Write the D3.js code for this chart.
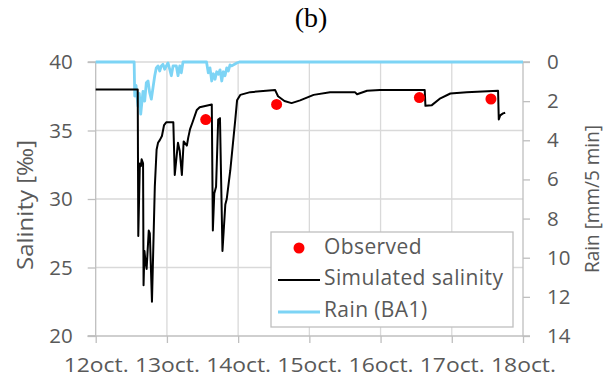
<!DOCTYPE html>
<html><head><meta charset="utf-8">
<script src="https://cdn.jsdelivr.net/npm/d3@7"></script>
<style>
html,body{margin:0;padding:0;background:#fff;}
text{font-family:"Open Sans",sans-serif;fill:#595959;}
</style></head>
<body>
<svg id="chart" width="609" height="384"></svg>
<script>
// ---- data ----
const xTickLabels = ["12oct.","13oct.","14oct.","15oct.","16oct.","17oct.","18oct."];
const salTicks = [20,25,30,35,40];
const rainTicks = [0,2,4,6,8,10,12,14];

const simTime = [0,0.59,0.598,0.62,0.635,0.645,0.665,0.672,0.685,0.70,0.715,0.745,0.76,0.79,0.83,0.855,0.875,0.90,0.93,0.96,0.99,1.09,1.11,1.155,1.18,1.21,1.235,1.28,1.30,1.325,1.36,1.42,1.46,1.63,1.645,1.665,1.69,1.72,1.745,1.78,1.82,1.84,1.89,1.96,1.985,2.03,2.17,2.52,2.56,2.65,2.75,2.87,3.06,3.29,3.64,3.67,3.81,3.99,4.62,4.63,4.72,4.84,4.98,5.21,5.65,5.66,5.68,5.72,5.75];
const simSal  = [38.0,38.0,27.3,32.6,32.4,32.9,32.6,23.7,26.2,25.4,24.9,27.7,27.5,22.5,30.9,33.6,34.1,34.3,34.6,35.4,35.6,35.6,31.75,34.1,33.5,31.75,34.2,33.9,34.5,35.1,35.6,36.5,36.7,36.9,27.7,30.4,30.9,35.8,35.9,26.2,29.6,30.0,32.1,35.8,37.2,37.6,37.8,37.95,37.5,37.15,37.0,37.2,37.6,37.8,37.8,37.65,37.9,37.95,37.95,36.8,36.85,37.35,37.7,37.8,37.9,35.8,36.1,36.25,36.3];

const obsTime = [1.545,2.54,4.545,5.55];
const obsSal  = [35.8,36.9,37.4,37.3];

const rainTime = [0,0.54,0.548,0.566,0.594,0.612,0.632,0.664,0.688,0.711,0.735,0.758,0.781,0.805,0.829,0.851,0.875,0.899,0.921,0.945,0.969,0.992,1.015,1.039,1.062,1.086,1.132,1.156,1.18,1.202,1.226,1.556,1.581,1.605,1.629,1.652,1.676,1.699,1.722,1.746,1.77,1.792,1.816,1.84,1.862,1.886,1.91,1.956,1.98,2.017,6];
const rainMm   = [0,0,1.74,1.2,2.25,1.6,2.66,1.5,2.0,1.06,0.97,1.57,1.9,1.3,0.7,0.3,0.2,0.46,0.2,0.12,0.37,0.2,0.05,0.37,0.7,0.2,0.2,0.7,0.2,0.55,0,0,0.55,0.3,0.97,0.6,0.88,0.5,0.63,0.4,0.97,0.5,0.7,0.3,0.46,0.15,0.2,0.1,0.05,0,0];

const legendLabels = ["Observed","Simulated salinity","Rain (BA1)"];

// ---- layout ----
const L = 95.7, R = 523, T = 62, B = 336;
const svg = d3.select("#chart");
const x = d3.scaleLinear().domain([0,6]).range([L,R]);
const yL = d3.scaleLinear().domain([20,40]).range([B,T]);
const yR = d3.scaleLinear().domain([0,14]).range([T,B]);

const gridC = "#d9d9d9", axisC = "#bfbfbf";

// gridlines
svg.append("g").selectAll("line").data([25,30,35,40]).join("line")
  .attr("x1",L).attr("x2",R).attr("y1",d=>yL(d)).attr("y2",d=>yL(d))
  .attr("stroke",gridC).attr("stroke-width",1.3);
svg.append("g").selectAll("line").data([1,2,3,4,5]).join("line")
  .attr("x1",d=>x(d)).attr("x2",d=>x(d)).attr("y1",T).attr("y2",B)
  .attr("stroke",gridC).attr("stroke-width",1.3);

// axes
const fs = 20.5;
const xAxis = svg.append("g").attr("transform",`translate(0,${B})`)
  .call(d3.axisBottom(x).tickValues(d3.range(7)).tickFormat((d,i)=>xTickLabels[i]).tickSize(7).tickPadding(14));
const yAxisL = svg.append("g").attr("transform",`translate(${L},0)`)
  .call(d3.axisLeft(yL).tickValues(salTicks).tickSize(8).tickPadding(15));
const yAxisR = svg.append("g").attr("transform",`translate(${R},0)`)
  .call(d3.axisRight(yR).tickValues(rainTicks).tickSize(7).tickPadding(17));
[xAxis,yAxisL,yAxisR].forEach(g=>{
  g.select(".domain").attr("stroke",axisC).attr("stroke-width",1.3);
  g.selectAll(".tick line").attr("stroke",axisC).attr("stroke-width",1.3);
  g.selectAll(".tick text").attr("font-family","Open Sans").attr("font-size",fs).attr("fill","#595959");
});
yAxisL.select(".domain").attr("d",`M-8,${T}H0V${B}H-8`);
yAxisR.select(".domain").attr("d",`M7,${T}H0V${B}H7`);
xAxis.select(".domain").attr("d",`M${L-8},0H${R}`);
xAxis.selectAll(".tick text").attr("textLength",65).attr("lengthAdjust","spacingAndGlyphs");

// rain line
svg.append("path").datum(rainTime.map((t,i)=>[t,rainMm[i]]))
  .attr("fill","none").attr("stroke","#7dd4f5").attr("stroke-width",2.8).attr("stroke-linejoin","round")
  .attr("d",d3.line().x(d=>x(d[0])).y(d=>yR(d[1])));

// simulated salinity
svg.append("path").datum(simTime.map((t,i)=>[t,simSal[i]]))
  .attr("fill","none").attr("stroke","#000").attr("stroke-width",2).attr("stroke-linejoin","round")
  .attr("d",d3.line().x(d=>x(d[0])).y(d=>yL(d[1])));

// observed
svg.append("g").selectAll("circle").data(obsTime.map((t,i)=>[t,obsSal[i]])).join("circle")
  .attr("cx",d=>x(d[0])).attr("cy",d=>yL(d[1])).attr("r",5.5).attr("fill","#ff0000");

// axis titles
svg.append("text").attr("transform","translate(27,205) rotate(-90)")
  .attr("text-anchor","middle").attr("dominant-baseline","middle").attr("font-size",21)
  .attr("textLength",130).attr("lengthAdjust","spacingAndGlyphs").text("Salinity [‰]");
svg.append("text").attr("transform","translate(594,199) rotate(-90)")
  .attr("text-anchor","middle").attr("dominant-baseline","middle").attr("font-size",20.5)
  .attr("textLength",148).attr("lengthAdjust","spacingAndGlyphs").text("Rain [mm/5 min]");

// title
svg.append("text").attr("x",311).attr("y",27).attr("text-anchor","middle")
  .style("font-family","'Liberation Serif',serif").style("fill","#000").attr("font-size",28).text("(b)");

// legend
const lg = svg.append("g");
lg.append("rect").attr("x",271).attr("y",232).attr("width",242).attr("height",95)
  .attr("fill","#fff").attr("stroke",axisC).attr("stroke-width",1.3);
const rows = [248,279,311];
lg.append("circle").attr("cx",299).attr("cy",rows[0]).attr("r",5.5).attr("fill","#ff0000");
lg.append("line").attr("x1",278).attr("x2",320).attr("y1",rows[1]+1).attr("y2",rows[1]+1).attr("stroke","#000").attr("stroke-width",2);
lg.append("line").attr("x1",278).attr("x2",320).attr("y1",rows[2]+1).attr("y2",rows[2]+1).attr("stroke","#7dd4f5").attr("stroke-width",2.8);
lg.selectAll("text.lt").data(legendLabels).join("text").attr("class","lt")
  .attr("x",324).attr("y",(d,i)=>rows[i]).attr("dominant-baseline","middle")
  .attr("font-size",21).attr("letter-spacing","0.4px").text(d=>d);
</script>
</body></html>
